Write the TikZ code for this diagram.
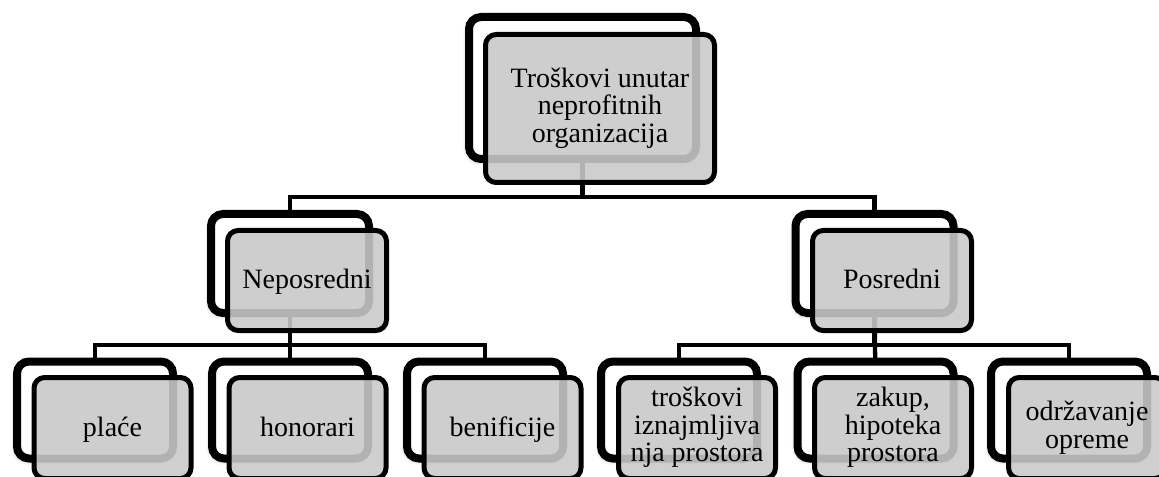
\documentclass[tikz,border=0pt]{standalone}
\usepackage{fontspec}
\setmainfont{Liberation Serif}
\usetikzlibrary{backgrounds,shadows.blur}
\newcommand\boxstrut{\rule[-0.25em]{0pt}{1.1em}}
\begin{document}
\begin{tikzpicture}[x=0.75pt,y=-0.75pt,
  backbox/.style={draw=black, line width=6pt, fill=white, rounded corners=9pt,
    inner sep=0pt, outer sep=0pt,
    blur shadow={shadow xshift=-1.5pt, shadow yshift=-2pt, shadow blur radius=3pt, shadow opacity=30}},
  frontbox/.style={draw=black, line width=3.75pt, fill=black!21, fill opacity=0.89,
    draw opacity=1, text opacity=1, rounded corners=8pt, inner sep=0pt, outer sep=0pt,
    align=center, font=\fontsize{21}{20.8}\selectfont,
    execute at begin node=\boxstrut, execute at end node=\boxstrut},
  topsz/.style={minimum width=227*0.75pt, minimum height=142*0.75pt},
  topfs/.style={minimum width=229*0.75pt, minimum height=148*0.75pt},
  midsz/.style={minimum width=158*0.75pt, minimum height=99*0.75pt},
  midfs/.style={minimum width=159*0.75pt, minimum height=100*0.75pt},
  botsz/.style={minimum width=156*0.75pt, minimum height=97*0.75pt},
  botfs/.style={minimum width=157*0.75pt, minimum height=101*0.75pt},
  conn/.style={draw=black, line width=3.2pt}]
\useasboundingbox (0,0) rectangle (1159,477);
\clip (0,0) rectangle (1159,477);
% top
\node[backbox,topsz] (topb) at (582.5,88) {};
\node[frontbox,topfs] (topf) at (600,108.5) {Troškovi unutar\\neprofitnih\\organizacija};
% middle
\node[backbox,midsz] (nepb) at (290,263.5) {};
\node[frontbox,midfs] (nepf) at (307,280.5) {Neposredni};
\node[backbox,midsz] (posb) at (874.5,263.5) {};
\node[frontbox,midfs] (posf) at (892,280.5) {Posredni};
% bottom
\node[backbox,botsz] (b1) at (95,410) {};
\node[frontbox,botfs] (f1) at (112.5,428) {plaće};
\node[backbox,botsz] (b2) at (290,410) {};
\node[frontbox,botfs] (f2) at (307.5,428) {honorari};
\node[backbox,botsz] (b3) at (485,410) {};
\node[frontbox,botfs] (f3) at (502.5,428) {benificije};
\node[backbox,botsz] (b4) at (679,410) {};
\node[frontbox,botfs] (f4) at (697,428) {troškovi\\iznajmljiva\\nja prostora};
\node[backbox,botsz] (b5) at (875.5,410) {};
\node[frontbox,botfs] (f5) at (893,428) {zakup,\\hipoteka\\prostora};
\node[backbox,botsz] (b6) at (1069,410) {};
\node[frontbox,botfs] (f6) at (1087,428) {održavanje\\opreme};
\begin{pgfonlayer}{background}
\draw[conn] (topb.center) |- (nepb.center |- 0,197) -- (nepb.center);
\draw[conn] (topb.center) |- (posb.center |- 0,197) -- (posb.center);
\draw[conn] (nepb.center) |- (b1.center |- 0,345) -- (b1.center);
\draw[conn] (nepb.center) -- (b2.center);
\draw[conn] (nepb.center) |- (b3.center |- 0,345) -- (b3.center);
\draw[conn] (posb.center) |- (b4.center |- 0,345) -- (b4.center);
\draw[conn] (posb.center) -- (b5.center);
\draw[conn] (posb.center) |- (b6.center |- 0,345) -- (b6.center);
\end{pgfonlayer}
\end{tikzpicture}
\end{document}
